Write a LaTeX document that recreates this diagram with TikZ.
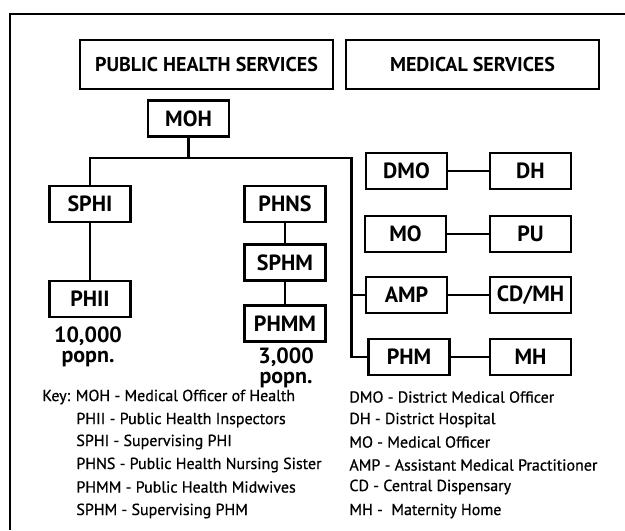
\documentclass[tikz,border=0pt]{standalone}
\usepackage{fontspec}
\setmainfont{PT Sans}
\newfontfamily\keyfont[RawFeature={embolden=0.7}]{PT Sans}

\begin{document}
\begin{tikzpicture}[x=0.5pt,y=-0.5pt,
        box/.style={draw,line width=1.3pt,minimum width=40.5pt,minimum height=18pt,inner sep=0pt,font=\fontsize{11}{12}\selectfont\bfseries},
        head/.style={draw,line width=1.3pt,minimum width=126.5pt,minimum height=24.5pt,inner sep=0pt,font=\fontsize{10}{11}\selectfont\bfseries},
        link/.style={line width=1.1pt},
        popn/.style={align=center,inner sep=0pt,font=\fontsize{11}{10}\selectfont\bfseries},
        key/.style={anchor=west,inner sep=0pt,font=\fontsize{8}{9}\keyfont}]
        \useasboundingbox(0,0)rectangle(625,530);
        \draw[line width=1.1pt](10,530)--(10,14)--(625,14);

        \node[head](phs)at(206.5,64.5){PUBLIC HEALTH SERVICES};
        \node[head](ms)at(472.5,64.5){MEDICAL SERVICES};

        \node[box](moh)at(188.5,118.5){MOH};
        \node[box](sphi)at(90,204){SPHI};
        \node[box](phii)at(90,299){PHII};
        \node[box](phns)at(285,204){PHNS};
        \node[box](sphm)at(285,262.5){SPHM};
        \node[box](phmm)at(285,323.5){PHMM};

        \node[box](dmo)at(406.5,171){DMO};
        \node[box](dh)at(530.5,171){DH};
        \node[box](mo)at(405.5,234){MO};
        \node[box](pu)at(530.5,234){PU};
        \node[box](amp)at(406.5,295){AMP};
        \node[box](cdmh)at(530.5,295){CD/MH};
        \node[box](phm)at(409,357){PHM};
        \node[box](mh)at(530.5,357){MH};

        \coordinate(jn)at(188.5,158);
        \coordinate(rt)at(351.5,158);
        \draw[link](moh)--(jn);
        \draw[link](sphi)|-(rt)|-(phm);
        \draw[link](amp.west)--(amp.west-|rt);
        \draw[link](sphi)--(phii);
        \draw[link](phns)--(sphm);
        \draw[link](sphm)--(phmm);
        \draw[link](dmo)--(dh);
        \draw[link](mo)--(pu);
        \draw[link](amp)--(cdmh);
        \draw[link](phm)--(mh);

        \node[popn](pop1)at(88,347){10,000\\popn.};
        \node[popn](pop2)at(286,367.5){3,000\\popn.};

        % key, left column
        \node[key](k1)at(42,397){Key: MOH - Medical Officer of Health};
        \node[key](k2)at(76,420){PHII - Public Health Inspectors};
        \node[key](k3)at(76,442){SPHI - Supervising PHI};
        \node[key](k4)at(76,465){PHNS - Public Health Nursing Sister};
        \node[key](k5)at(76,487){PHMM - Public Health Midwives};
        \node[key](k6)at(76,511){SPHM - Supervising PHM};

        % key, right column
        \node[key](k7)at(349,397){DMO - District Medical Officer};
        \node[key](k8)at(349,420){DH - District Hospital};
        \node[key](k9)at(349,442){MO - Medical Officer};
        \node[key](k10)at(349,465){AMP - Assistant Medical Practitioner};
        \node[key](k11)at(349,487){CD - Central Dispensary};
        \node[key](k12)at(349,511){MH -\ \ Maternity Home};
    \end{tikzpicture}
\end{document}
